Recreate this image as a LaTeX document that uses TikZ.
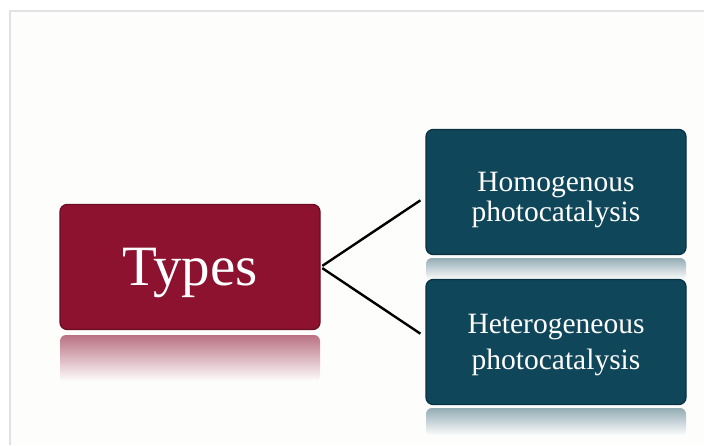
\documentclass[tikz,border=0pt]{standalone}
\usepackage{fontspec}
\setmainfont{Liberation Serif}
\usepackage{xcolor}
\usetikzlibrary{
  positioning,
  calc
}
\definecolor{TypeRed}{HTML}{8C1230}
\definecolor{TypeRedDark}{HTML}{6A0C22}
\definecolor{KindBlue}{HTML}{0F4659}
\definecolor{KindBlueDark}{HTML}{0A3242}
\definecolor{FrameGray}{HTML}{E2E2E2}
\definecolor{PaperWhite}{HTML}{FDFDFC}
\tikzset{
  tile/.style={
    rounded corners=7pt,
    align=center,
    text=white,
    minimum width=260pt,
    minimum height=125pt,
    inner sep=0pt
  },
  typebox/.style={
    tile,
    fill=TypeRed,
    draw=TypeRedDark,
    line width=1.2pt
  },
  kindbox/.style={
    tile,
    fill=KindBlue,
    draw=KindBlueDark,
    line width=1.2pt
  },
  typetext/.style={
    text=white,
    align=center,
    font=\fontsize{57}{60}\selectfont
  },
  kindtext/.style={
    text=white,
    align=center,
    font=\fontsize{29.5}{30}\selectfont
  },
  mirror/.style={
    rounded corners=6pt,
    draw=none
  },
  branch/.style={
    line width=2.4pt,
    draw=black,
    shorten >=6pt,
    shorten <=2pt
  }
}

\begin{document}
\begin{tikzpicture}[
  x=1pt,
  y=-1pt
]

  % page and frame
  \useasboundingbox (0,0) rectangle (704,445);
  \fill[white] (0,0) rectangle (704,445);
  \fill[PaperWhite] (10,11) rectangle (704,445);
  \draw[FrameGray, line width=1.5pt] (10,445) -- (10,11) -- (704,11);

  % reflections
  \shade[
    mirror,
    top color=TypeRed!60,
    bottom color=white
  ] (60,335) rectangle (320,382);

  \shade[
    mirror,
    top color=KindBlue!45,
    bottom color=white
  ] (426,258) rectangle (686,280);

  \shade[
    mirror,
    top color=KindBlue!45,
    bottom color=white
  ] (426,408) rectangle (686,436);

  % boxes
  \node[
    typebox,
    label={[typetext, yshift=-6pt]center:Types}
  ] (types) at (190,267) {};

  \node[
    kindbox,
    label={[kindtext, yshift=-8pt]center:Homogenous\\photocatalysis}
  ] (homo) at (556,192) {};

  \node[
    kindbox,
    label={[kindtext, yshift=-3pt,
      font=\fontsize{29.5}{36}\selectfont]center:Heterogeneous\\photocatalysis}
  ] (hetero) at (556,342) {};

  % connectors
  \draw[branch]
  (types.east) --
  (homo.west |- 0,197);

  \draw[branch]
  (types.east) --
  (hetero.west |- 0,337);

\end{tikzpicture}
\end{document}
